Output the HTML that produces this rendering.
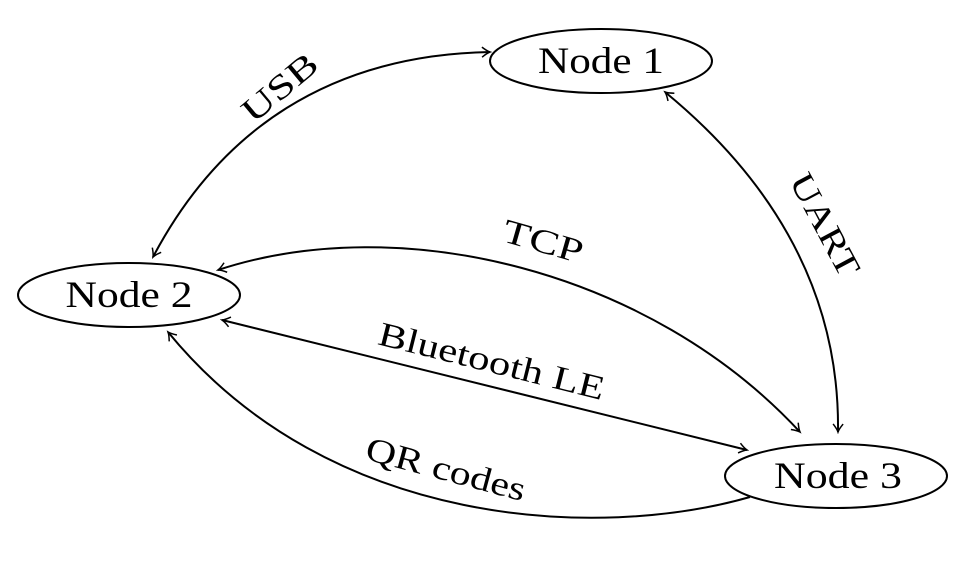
<!DOCTYPE html>
<html><head><meta charset="utf-8"><style>
html,body{margin:0;padding:0;background:#fff;}
svg{display:block;}
text{font-family:"Liberation Serif","DejaVu Serif",serif;fill:#000;}
</style></head><body>
<svg width="968" height="574" viewBox="0 0 968 574" xmlns="http://www.w3.org/2000/svg">
<defs>
<marker id="a" viewBox="-10 -6 12 12" refX="0" refY="0" markerWidth="12" markerHeight="12" markerUnits="userSpaceOnUse" orient="auto-start-reverse">
<path d="M-8,-5 Q-3,-1 0,0 Q-3,1 -8,5" fill="none" stroke="#000" stroke-width="1.5"/>
</marker>
</defs>
<g fill="none" stroke="#000" stroke-width="2">
<ellipse cx="601" cy="61" rx="111" ry="32"/>
<ellipse cx="129" cy="295" rx="111" ry="32"/>
<ellipse cx="836" cy="476" rx="111" ry="32"/>
<path d="M153,257 C220,130 330,55 490,52" marker-start="url(#a)" marker-end="url(#a)"/>
<path d="M665,92 C760,170 840,280 838,432" marker-start="url(#a)" marker-end="url(#a)"/>
<path d="M218,270 C400,210 650,270 800,432" marker-start="url(#a)" marker-end="url(#a)"/>
<path d="M222,320 L747,450" marker-start="url(#a)" marker-end="url(#a)"/>
<path d="M750,497 C600,540 330,530 168,332" marker-end="url(#a)"/>
</g>
<g font-size="37" text-anchor="middle">
<text x="601" y="73" textLength="126" lengthAdjust="spacingAndGlyphs">Node 1</text>
<text x="129" y="307" textLength="127" lengthAdjust="spacingAndGlyphs">Node 2</text>
<text x="838" y="488" textLength="128" lengthAdjust="spacingAndGlyphs">Node 3</text>
</g>
<g font-size="34" text-anchor="middle">
<text transform="translate(287,96) rotate(-40)" textLength="88" lengthAdjust="spacingAndGlyphs">USB</text>
<text transform="translate(815,230) rotate(62)" textLength="112" lengthAdjust="spacingAndGlyphs">UART</text>
<text transform="translate(540,252) rotate(16)" textLength="82" lengthAdjust="spacingAndGlyphs">TCP</text>
<text transform="translate(489,372) rotate(14)" textLength="232" lengthAdjust="spacingAndGlyphs">Bluetooth LE</text>
<text transform="translate(443,480) rotate(15)" textLength="164" lengthAdjust="spacingAndGlyphs">QR codes</text>
</g>
</svg>
</body></html>
